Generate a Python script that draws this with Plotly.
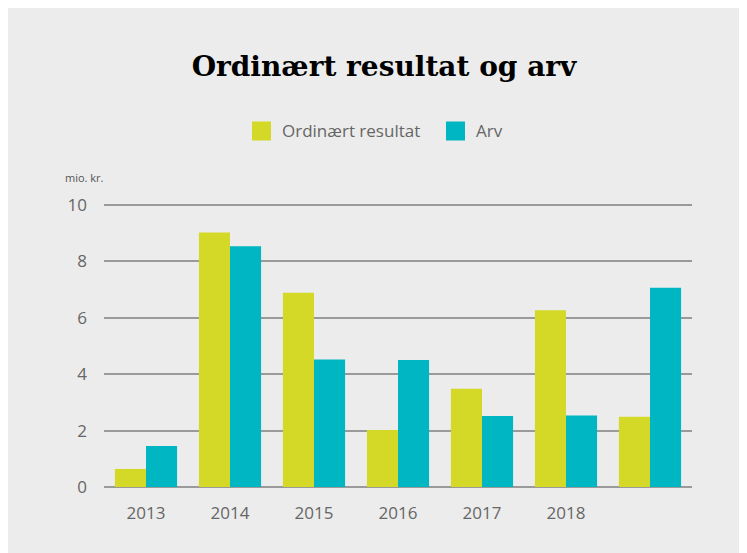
import plotly.graph_objects as go

categories = ["2013", "2014", "2015", "2016", "2017", "2018", "2019"]
tick_labels = ["2013", "2014", "2015", "2016", "2017", "2018", ""]
ordinaert = [0.64, 9.02, 6.88, 2.02, 3.48, 6.26, 2.49]
arv = [1.45, 8.53, 4.52, 4.50, 2.52, 2.53, 7.06]
y_ticks = [0, 2, 4, 6, 8, 10]
series_names = ["Ordinært resultat", "Arv"]

YELLOW = "#d4d826"
CYAN = "#00b6c2"
GRAY_TXT = "#666666"
BG = "#ececec"

Y_MAX = 10.1

# page has an 8px body margin; reference pixel coords are shifted by OFF
OFF = 8
W, H = 747 - OFF, 553 - OFF
PX_PER_UNIT = (487 - 205) / 10
L, R, B = 104 - OFF, 747 - 692, 553 - 487
T = round(487 - PX_PER_UNIT * Y_MAX) - OFF


def px_x(x):
    return (x - OFF - L) / (W - L - R)


def px_y(y):
    return (H - B - (y - OFF)) / (H - T - B)


fig = go.Figure()
fig.add_trace(go.Bar(x=categories, y=ordinaert, name=series_names[0],
                     marker=dict(color=YELLOW, line=dict(width=0)), showlegend=False))
fig.add_trace(go.Bar(x=categories, y=arv, name=series_names[1],
                     marker=dict(color=CYAN, line=dict(width=0)), showlegend=False))

# manual legend (squares + text)
legend_items = [(252, YELLOW, series_names[0]), (446, CYAN, series_names[1])]
for sx, col, name in legend_items:
    fig.add_shape(type="rect", xref="paper", yref="paper",
                  x0=px_x(sx), x1=px_x(sx + 19), y0=px_y(140.5), y1=px_y(121.5),
                  fillcolor=col, line=dict(width=0))
    fig.add_annotation(text=name, xref="paper", yref="paper",
                       x=px_x(sx + 28), y=px_y(131), xanchor="left", yanchor="middle",
                       showarrow=False, font=dict(size=17, color=GRAY_TXT))

fig.update_layout(
    width=W, height=H,
    margin=dict(l=L, r=R, t=T, b=B),
    paper_bgcolor=BG,
    plot_bgcolor="rgba(0,0,0,0)",
    barmode="group", bargap=0.26, bargroupgap=0,
    font=dict(family="Open Sans", color=GRAY_TXT, size=17),
    showlegend=False,
    title=dict(text="<b>Ordinært resultat og arv</b>",
               font=dict(family="DejaVu Serif", size=28, color="black"),
               x=px_x(384), xanchor="center", xref="paper",
               y=1 - (66 - OFF) / H, yanchor="middle"),
    xaxis=dict(tickmode="array", tickvals=categories, ticktext=tick_labels,
               showgrid=False, showline=False, zeroline=False,
               ticks="", ticklabelstandoff=14,
               tickfont=dict(size=17, color=GRAY_TXT)),
    yaxis=dict(range=[0, Y_MAX], tickvals=y_ticks, showgrid=True,
               gridcolor="#9a9a9a", gridwidth=2, zeroline=True,
               zerolinecolor="#9a9a9a", zerolinewidth=2,
               showline=False, ticks="", ticklabelstandoff=16,
               tickfont=dict(size=17, color=GRAY_TXT)),
)

fig.add_annotation(text="mio. kr.", xref="paper", yref="paper",
                   x=px_x(63), y=px_y(177), xanchor="left", yanchor="middle",
                   showarrow=False, font=dict(size=11, color="#555555"))

fig.write_html("out.html")
